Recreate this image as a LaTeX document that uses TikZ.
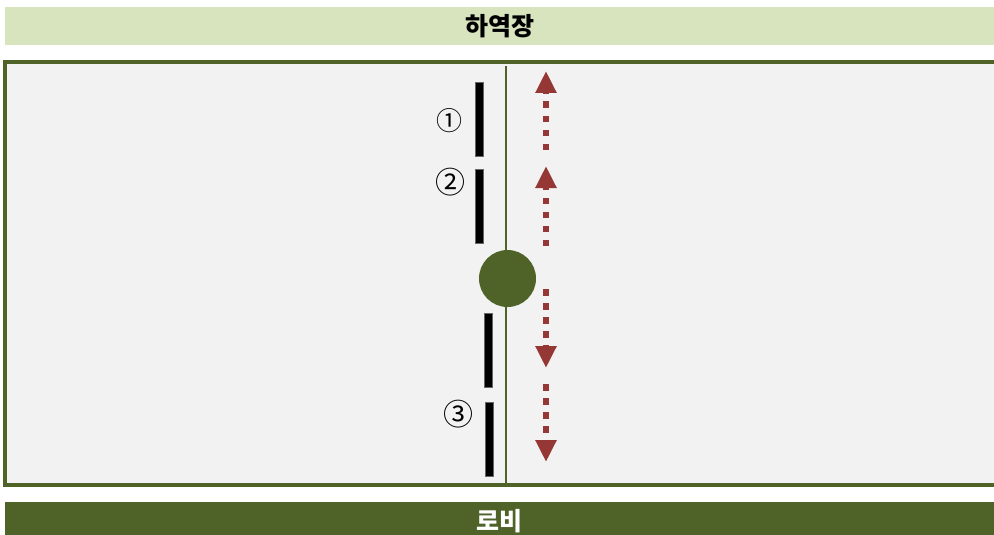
\documentclass[tikz,border=0pt]{standalone}
\usepackage{fontspec}
\setmainfont{Noto Sans CJK KR}
\usetikzlibrary{arrows.meta, positioning}
\definecolor{dockgreen}{HTML}{D7E4BD}
\definecolor{olive}{HTML}{4F6228}
\definecolor{hallgray}{HTML}{F2F2F2}
\definecolor{flowred}{HTML}{953735}
\begin{document}
\begin{tikzpicture}[
    x=1pt, y=-1pt,
    banner/.style={rectangle, inner sep=0pt, minimum width=989pt, minimum height=38pt, font=\fontsize{25}{30}\selectfont\bfseries},
    hall/.style={rectangle, draw=olive, line width=4pt, fill=hallgray, inner sep=0pt},
    panel/.style={rectangle, fill=black, draw=black!60, line width=0.4pt, inner sep=0pt, minimum width=7.5pt, minimum height=74pt},
    hub/.style={circle, fill=olive, inner sep=0pt, minimum size=57pt},
    num/.style={inner sep=0pt, font=\fontsize{26}{28}\selectfont},
    bignum/.style={num, font=\fontsize{30}{32}\selectfont},
    rail/.style={draw=olive, line width=2pt},
    flow/.style={-{Triangle[width=20pt, length=22pt]}, draw=flowred, line width=6.5pt, dash pattern=on 6.5pt off 7.5pt}
  ]
    \useasboundingbox (0,0) rectangle (994,535);
    \clip (0,0) rectangle (994,535);
    % banners
    \node[banner, fill=dockgreen, text=black] (dock) at (499.5,26) {하역장};
    \node[hall, minimum width=995pt, minimum height=423pt] (hall) at (502.5,273.5) {};
    \node[banner, fill=olive, text=white] (lobby) at (499.5,521) {로비};
    % centre line and hub
    \coordinate (railtop) at (506,66);
    \coordinate (railbot) at (506,485);
    \draw[rail] (railtop) -- (railbot);
    \node[hub] (hub) at (507.5,278.5) {};
    % panels
    \node[panel] (p1) at (479,119) {};
    \node[panel] (p2) at (479,206) {};
    \node[panel] (p3) at (488,350) {};
    \node[panel] (p4) at (489,439) {};
    \node[num] (n1) at (449,121) {①};
    \node[bignum] (n2) at (450,182) {②};
    \node[bignum] (n3) at (458,414) {③};
    % movement arrows
    \foreach \s/\e [count=\i] in {150/71, 246/166, 289/368, 384/462} {
      \coordinate (f\i s) at (546,\s);
      \coordinate (f\i e) at (546,\e);
      \draw[flow] (f\i s) -- (f\i e);
    }
  \end{tikzpicture}
\end{document}
